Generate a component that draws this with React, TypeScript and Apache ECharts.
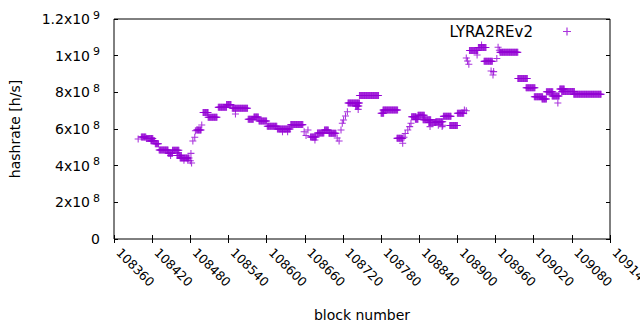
import React, { useEffect, useRef } from "react";
import * as echarts from "echarts";

// Runs of consecutive blocks that share (roughly) the same hashrate
const runFrom = [
  108403, 108411, 108418, 108425, 108431, 108445, 108452, 108459, 108464,
  108490, 108500, 108508, 108524, 108537, 108546, 108571, 108580, 108588,
  108601, 108617, 108638, 108669, 108680, 108691, 108698, 108728, 108740,
  108746, 108780, 108783, 108805, 108828, 108834, 108838, 108846, 108855,
  108866, 108878, 108888, 108900, 108919, 108933, 108942, 108967, 108995,
  109008, 109021, 109033, 109040, 109049, 109061, 109064, 109083,
];
const runTo = [
  108410, 108421, 108424, 108430, 108445, 108452, 108462, 108466, 108478,
  108497, 108508, 108522, 108537, 108544, 108570, 108579, 108587, 108600,
  108616, 108637, 108657, 108678, 108690, 108697, 108709, 108746, 108745,
  108776, 108784, 108806, 108814, 108835, 108838, 108848, 108858, 108866,
  108877, 108890, 108900, 108910, 108932, 108945, 108955, 108995, 109010,
  109022, 109034, 109040, 109050, 109060, 109068, 109084, 109126,
];
const runHashrate = [
  5.56e8, 5.48e8, 5.36e8, 5.2e8, 4.85e8, 4.68e8, 4.84e8, 4.55e8, 4.42e8,
  5.95e8, 6.9e8, 6.64e8, 7.18e8, 7.33e8, 7.13e8, 6.53e8, 6.65e8, 6.44e8,
  6.15e8, 6.0e8, 6.24e8, 5.56e8, 5.78e8, 5.95e8, 5.77e8, 7.42e8, 7.25e8,
  7.83e8, 6.86e8, 7.04e8, 5.49e8, 6.67e8, 6.53e8, 6.75e8, 6.51e8, 6.35e8,
  6.4e8, 6.69e8, 6.19e8, 6.86e8, 10.28e8, 10.45e8, 9.69e8, 10.18e8, 8.76e8,
  8.25e8, 7.76e8, 7.64e8, 8.03e8, 7.8e8, 8.18e8, 8.05e8, 7.89e8,
];

// Isolated blocks
const pointBlock = [
  108398, 108449, 108470, 108476, 108480, 108481, 108482, 108484, 108487,
  108488, 108498, 108551, 108625, 108633, 108659, 108662, 108665, 108676,
  108711, 108714, 108717, 108719, 108721, 108724, 108727, 108744, 108814,
  108816, 108818, 108822, 108825, 108827, 108857, 108870, 108876, 108877,
  108911, 108914, 108914, 108916, 108918, 108931, 108938, 108953, 108956,
  108957, 108962, 108964, 108966, 109058,
];
const pointHashrate = [
  5.45e8, 4.55e8, 4.3e8, 4.3e8, 4.27e8, 4.67e8, 4.15e8, 5.35e8, 5.55e8,
  5.9e8, 6.22e8, 6.82e8, 5.85e8, 5.85e8, 5.85e8, 5.65e8, 5.95e8, 5.4e8,
  5.51e8, 5.35e8, 5.95e8, 6.31e8, 6.49e8, 6.71e8, 6.94e8, 7.07e8, 5.22e8,
  5.55e8, 5.76e8, 5.95e8, 6.13e8, 6.31e8, 6.13e8, 6.2e8, 6.13e8, 6.2e8,
  7.04e8, 7.0e8, 9.87e8, 9.71e8, 9.53e8, 10.04e8, 10.58e8, 9.16e8, 8.95e8,
  9.13e8, 9.85e8, 10.46e8, 10.3e8, 7.42e8,
];

// Tick labels
const xTickValues = [
  108360, 108420, 108480, 108540, 108600, 108660, 108720, 108780, 108840,
  108900, 108960, 109020, 109080, 109140,
];
const yTickValues = [0, 2e8, 4e8, 6e8, 8e8, 1e9, 1.2e9];

const seriesName = "LYRA2REv2";
const xMin = 108360;
const xMax = 109140;
const xStep = 60;
const yMin = 0;
const yMax = 1.2e9;
const yStep = 2e8;

const CROSS =
  "path://M3.4,0L4.6,0L4.6,3.4L8,3.4L8,4.6L4.6,4.6L4.6,8L3.4,8L3.4,4.6L0,4.6L0,3.4L3.4,3.4Z";
const FONT = "DejaVu Sans";
const COLOR = "#9400d3";

function buildData(): number[][] {
  const out: number[][] = [];
  for (let i = 0; i < runFrom.length; i++) {
    for (let b = runFrom[i]; b <= runTo[i]; b++) out.push([b, runHashrate[i]]);
  }
  for (let i = 0; i < pointBlock.length; i++) out.push([pointBlock[i], pointHashrate[i]]);
  return out;
}

function exponentOf(v: number): number {
  return Math.floor(Math.log10(v) + 1e-9);
}
function mantissaLabel(v: number): string {
  const e = exponentOf(v);
  const m = Math.round((v / Math.pow(10, e)) * 10) / 10;
  return `${m}x10`;
}

export default function App() {
  const ref = useRef<HTMLDivElement>(null);
  useEffect(() => {
    if (!ref.current) return;
    const chart = echarts.init(ref.current, undefined, { renderer: "svg" });
    const tick = { inside: true, length: 4, lineStyle: { color: "#000", width: 1 } };
    chart.setOption({
      animation: false,
      backgroundColor: "#fff",
      grid: {
        left: 114,
        top: 19,
        right: 30,
        bottom: 91,
        show: true,
        borderColor: "#000",
        borderWidth: 1,
        backgroundColor: "transparent",
      },
      legend: {
        data: [{ name: seriesName, icon: CROSS }],
        right: 69,
        top: 24,
        padding: 0,
        align: "right",
        itemWidth: 8,
        itemHeight: 8,
        itemStyle: { color: COLOR },
        textStyle: {
          fontFamily: FONT,
          fontSize: 15,
          color: "#000",
          padding: [0, 25, 0, 0],
        },
      },
      xAxis: [
        {
          type: "value",
          min: xMin,
          max: xMax,
          interval: xStep,
          position: "bottom",
          axisLine: { show: false },
          axisTick: tick,
          splitLine: { show: false },
          axisLabel: { show: false },
          name: "block number",
          nameLocation: "middle",
          nameGap: 69,
          nameTextStyle: { fontFamily: FONT, fontSize: 14, color: "#000" },
        },
        {
          type: "value",
          min: xMin,
          max: xMax,
          interval: xStep,
          position: "top",
          axisLine: { show: false },
          axisTick: tick,
          splitLine: { show: false },
          axisLabel: { show: false },
        },
      ],
      yAxis: [
        {
          type: "value",
          min: yMin,
          max: yMax,
          interval: yStep,
          position: "left",
          axisLine: { show: false },
          axisTick: tick,
          splitLine: { show: false },
          axisLabel: { show: false },
          name: "hashrate [h/s]",
          nameLocation: "middle",
          nameGap: 92,
          nameRotate: 90,
          nameTextStyle: { fontFamily: FONT, fontSize: 14, color: "#000" },
        },
        {
          type: "value",
          min: yMin,
          max: yMax,
          interval: yStep,
          position: "right",
          axisLine: { show: false },
          axisTick: tick,
          splitLine: { show: false },
          axisLabel: { show: false },
        },
      ],
      series: [
        {
          name: seriesName,
          type: "scatter",
          xAxisIndex: 0,
          yAxisIndex: 0,
          data: buildData(),
          symbol: CROSS,
          symbolSize: 7,
          itemStyle: { color: COLOR },
        },
      ],
    });

    // Tick labels placed through the axes' own scales
    const axisY = chart.convertToPixel({ yAxisIndex: 0 }, yMin) as number;
    const axisX = chart.convertToPixel({ xAxisIndex: 0 }, xMin) as number;
    const labels: any[] = [];
    xTickValues.forEach((v) => {
      const px = chart.convertToPixel({ xAxisIndex: 0 }, v) as number;
      labels.push({
        type: "text",
        x: px,
        y: axisY + 16,
        rotation: -Math.PI / 4,
        silent: true,
        style: {
          text: String(v),
          font: `12.5px '${FONT}'`,
          fill: "#000",
          align: "left",
          verticalAlign: "bottom",
        },
      });
    });
    yTickValues.forEach((v) => {
      const py = chart.convertToPixel({ yAxisIndex: 0 }, v) as number;
      if (v === 0) {
        labels.push({
          type: "text",
          x: axisX - 14,
          y: py,
          silent: true,
          style: {
            text: "0",
            font: `14px '${FONT}'`,
            fill: "#000",
            align: "right",
            verticalAlign: "middle",
          },
        });
      } else {
        labels.push({
          type: "text",
          x: axisX - 24,
          y: py,
          silent: true,
          style: {
            text: mantissaLabel(v),
            font: `14px '${FONT}'`,
            fill: "#000",
            align: "right",
            verticalAlign: "middle",
          },
        });
        labels.push({
          type: "text",
          x: axisX - 14,
          y: py - 4,
          silent: true,
          style: {
            text: String(exponentOf(v)),
            font: `11px '${FONT}'`,
            fill: "#000",
            align: "right",
            verticalAlign: "middle",
          },
        });
      }
    });
    chart.setOption({ graphic: labels });

    return () => chart.dispose();
  }, []);
  return (
    <div
      ref={ref}
      style={{ position: "absolute", left: 0, top: 0, width: 640, height: 330 }}
    />
  );
}
